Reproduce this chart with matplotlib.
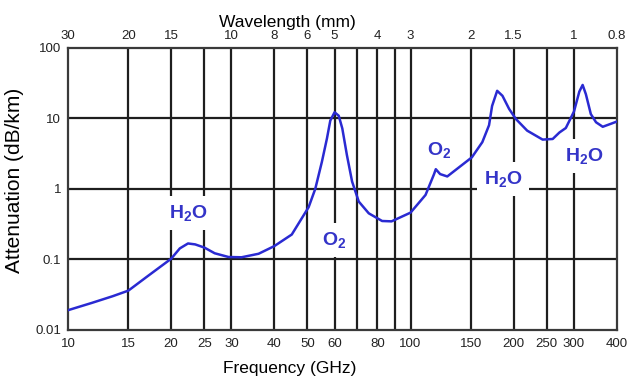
import matplotlib
matplotlib.use("Agg")
import matplotlib.pyplot as plt

plt.rcParams['font.family'] = ['Liberation Sans', 'DejaVu Sans']
plt.rcParams['mathtext.default'] = 'regular'

# ---- data ----
freq_ghz = [10, 11.7, 13.5, 15, 17.1, 20, 21.2, 22.4, 23.5, 25, 26.8, 29.4, 32.1,
            36, 40, 45, 50.4, 52.7, 55.1, 57, 58.3, 60, 61.7, 63.2, 65.2, 67.5,
            70.6, 75.5, 82.6, 88, 100, 110.6, 117, 118.5, 122, 128, 151, 162,
            169.5, 173, 179, 185.5, 194, 203, 219, 243, 260, 272, 284, 300, 311,
            318, 325, 336, 348, 364, 385, 400]
atten_db_km = [0.019, 0.024, 0.03, 0.036, 0.058, 0.102, 0.143, 0.168, 0.163, 0.147,
               0.122, 0.108, 0.107, 0.12, 0.154, 0.225, 0.55, 1.0, 2.42, 5.18, 9.3,
               12.2, 10.9, 7.2, 3.0, 1.27, 0.66, 0.45, 0.35, 0.346, 0.46, 0.82, 1.6,
               1.9, 1.62, 1.5, 2.8, 4.6, 8.0, 15.0, 24.6, 20.9, 13.6, 9.8, 6.7, 5.0,
               5.1, 6.3, 7.3, 12.5, 24.0, 29.8, 22.0, 11.5, 8.8, 7.6, 8.4, 9.0]

grid_freqs = [15, 20, 25, 30, 40, 50, 60, 70, 80, 90, 100, 150, 200, 250, 300]
grid_atten = [0.1, 1, 10]

bottom_ticks = [10, 15, 20, 25, 30, 40, 50, 60, 80, 100, 150, 200, 250, 300, 400]
bottom_labels = ['10', '15', '20', '25', '30', '40', '50', '60', '80', '100',
                 '150', '200', '250', '300', '400']
top_ticks = [10, 15, 20, 30, 40, 50, 60, 80, 100, 150, 200, 300, 400]
top_labels = ['30', '20', '15', '10', '8', '6', '5', '4', '3', '2', '1.5', '1', '0.8']
y_ticks = [0.01, 0.1, 1, 10, 100]
y_labels = ['0.01', '0.1', '1', '10', '100']

annotations = [("H$_2$O", 22.4, 0.46), ("O$_2$", 60, 0.19), ("O$_2$", 121, 3.6),
               ("H$_2$O", 186, 1.38), ("H$_2$O", 322, 2.9)]

# ---- figure ----
fig = plt.figure(figsize=(6.3, 3.8), dpi=100)
ax = fig.add_axes([0.108, 0.132, 0.871, 0.742])
ax.set_xscale('log')
ax.set_yscale('log')
ax.set_xlim(10, 400)
ax.set_ylim(0.01, 100)

line_col = '#1e1e1e'
for f in grid_freqs:
    ax.axvline(f, color=line_col, lw=1.6, zorder=1)
for a in grid_atten:
    ax.axhline(a, color=line_col, lw=1.6, zorder=1)

ax.plot(freq_ghz, atten_db_km, color='#2a2ad2', lw=1.8, zorder=5,
        solid_joinstyle='round')

for txt, x, y in annotations:
    ax.text(x, y, txt, color='#3434c8', fontsize=14, fontweight='bold',
            ha='center', va='center', zorder=3,
            bbox=dict(facecolor='white', edgecolor='none', pad=5))

for s in ax.spines.values():
    s.set_color('#3a3a3a')
    s.set_linewidth(1.6)

ax.minorticks_off()
ax.set_xticks(bottom_ticks)
ax.set_xticklabels(bottom_labels)
ax.set_yticks(y_ticks)
ax.set_yticklabels(y_labels)
ax.tick_params(axis='both', length=0, labelsize=9.5, pad=5, colors='#222222')
ax.tick_params(axis='x', pad=6)

ax.set_xlabel('Frequency (GHz)', fontsize=12.5, labelpad=1)
ax.xaxis.set_label_coords(0.404, -0.11)
ax.set_ylabel('Attenuation (dB/km)', fontsize=15, labelpad=8)
ax.yaxis.set_label_coords(-0.08, 0.53)

top = ax.twiny()
top.set_xscale('log')
top.set_xlim(10, 400)
top.minorticks_off()
top.set_xticks(top_ticks)
top.set_xticklabels(top_labels)
top.tick_params(axis='x', length=0, labelsize=9.5, pad=4, colors='#222222')
top.set_xlabel('Wavelength (mm)', fontsize=12.5, labelpad=1)
top.xaxis.set_label_coords(0.400, 1.075)
for s in top.spines.values():
    s.set_visible(False)

fig.savefig('out.png', dpi=100, facecolor='white')
